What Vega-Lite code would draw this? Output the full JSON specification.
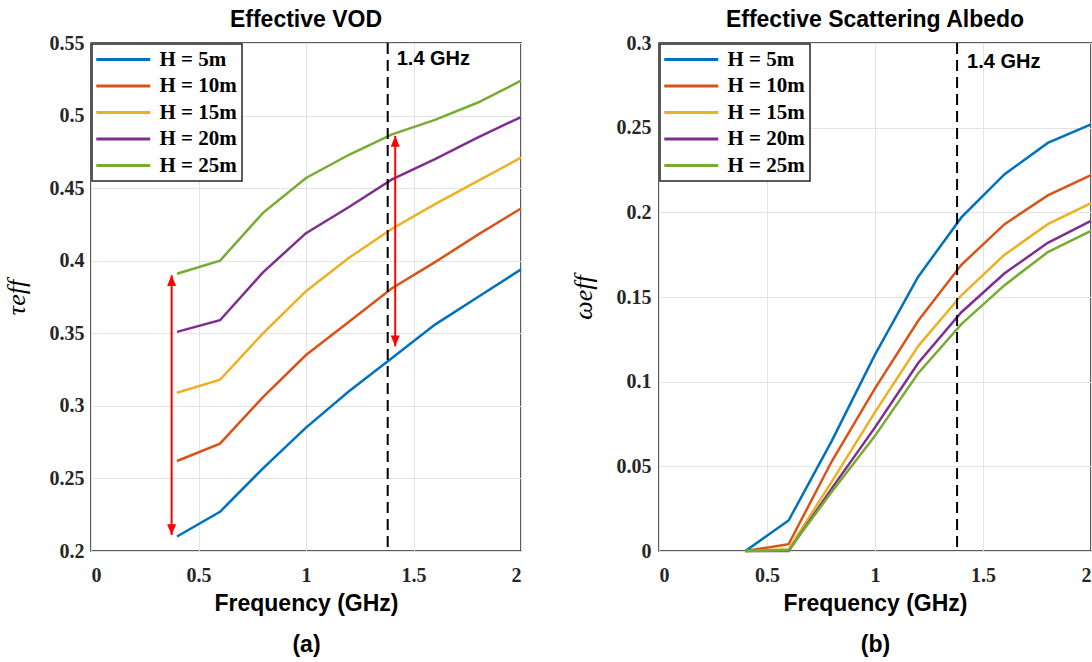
{
  "$schema": "https://vega.github.io/schema/vega-lite/v6.json",
  "autosize": {"type": "pad"},
  "padding": {"left": 2, "top": 8, "right": 0, "bottom": 0},
  "background": "white",
  "bounds": "flush",
  "spacing": 138,
  "datasets": {
    "vod": [
      {"H": "H = 5m", "f": 0.4, "v": 0.210}, {"H": "H = 5m", "f": 0.6, "v": 0.227}, {"H": "H = 5m", "f": 0.8, "v": 0.257}, {"H": "H = 5m", "f": 1.0, "v": 0.285}, {"H": "H = 5m", "f": 1.2, "v": 0.310}, {"H": "H = 5m", "f": 1.4, "v": 0.333}, {"H": "H = 5m", "f": 1.6, "v": 0.356}, {"H": "H = 5m", "f": 1.8, "v": 0.375}, {"H": "H = 5m", "f": 2.0, "v": 0.394},
      {"H": "H = 10m", "f": 0.4, "v": 0.262}, {"H": "H = 10m", "f": 0.6, "v": 0.274}, {"H": "H = 10m", "f": 0.8, "v": 0.306}, {"H": "H = 10m", "f": 1.0, "v": 0.335}, {"H": "H = 10m", "f": 1.2, "v": 0.358}, {"H": "H = 10m", "f": 1.4, "v": 0.381}, {"H": "H = 10m", "f": 1.6, "v": 0.399}, {"H": "H = 10m", "f": 1.8, "v": 0.418}, {"H": "H = 10m", "f": 2.0, "v": 0.436},
      {"H": "H = 15m", "f": 0.4, "v": 0.309}, {"H": "H = 15m", "f": 0.6, "v": 0.318}, {"H": "H = 15m", "f": 0.8, "v": 0.350}, {"H": "H = 15m", "f": 1.0, "v": 0.379}, {"H": "H = 15m", "f": 1.2, "v": 0.402}, {"H": "H = 15m", "f": 1.4, "v": 0.422}, {"H": "H = 15m", "f": 1.6, "v": 0.439}, {"H": "H = 15m", "f": 1.8, "v": 0.455}, {"H": "H = 15m", "f": 2.0, "v": 0.471},
      {"H": "H = 20m", "f": 0.4, "v": 0.351}, {"H": "H = 20m", "f": 0.6, "v": 0.359}, {"H": "H = 20m", "f": 0.8, "v": 0.392}, {"H": "H = 20m", "f": 1.0, "v": 0.419}, {"H": "H = 20m", "f": 1.2, "v": 0.437}, {"H": "H = 20m", "f": 1.4, "v": 0.456}, {"H": "H = 20m", "f": 1.6, "v": 0.470}, {"H": "H = 20m", "f": 1.8, "v": 0.485}, {"H": "H = 20m", "f": 2.0, "v": 0.499},
      {"H": "H = 25m", "f": 0.4, "v": 0.391}, {"H": "H = 25m", "f": 0.6, "v": 0.400}, {"H": "H = 25m", "f": 0.8, "v": 0.433}, {"H": "H = 25m", "f": 1.0, "v": 0.457}, {"H": "H = 25m", "f": 1.2, "v": 0.473}, {"H": "H = 25m", "f": 1.4, "v": 0.487}, {"H": "H = 25m", "f": 1.6, "v": 0.497}, {"H": "H = 25m", "f": 1.8, "v": 0.509}, {"H": "H = 25m", "f": 2.0, "v": 0.524}
    ],
    "alb": [
      {"H": "H = 5m", "f": 0.4, "v": 0.0}, {"H": "H = 5m", "f": 0.6, "v": 0.018}, {"H": "H = 5m", "f": 0.8, "v": 0.065}, {"H": "H = 5m", "f": 1.0, "v": 0.116}, {"H": "H = 5m", "f": 1.2, "v": 0.162}, {"H": "H = 5m", "f": 1.4, "v": 0.197}, {"H": "H = 5m", "f": 1.6, "v": 0.2225}, {"H": "H = 5m", "f": 1.8, "v": 0.241}, {"H": "H = 5m", "f": 2.0, "v": 0.252},
      {"H": "H = 10m", "f": 0.4, "v": 0.0}, {"H": "H = 10m", "f": 0.6, "v": 0.004}, {"H": "H = 10m", "f": 0.8, "v": 0.053}, {"H": "H = 10m", "f": 1.0, "v": 0.096}, {"H": "H = 10m", "f": 1.2, "v": 0.136}, {"H": "H = 10m", "f": 1.4, "v": 0.169}, {"H": "H = 10m", "f": 1.6, "v": 0.193}, {"H": "H = 10m", "f": 1.8, "v": 0.210}, {"H": "H = 10m", "f": 2.0, "v": 0.222},
      {"H": "H = 15m", "f": 0.4, "v": 0.0}, {"H": "H = 15m", "f": 0.6, "v": 0.001}, {"H": "H = 15m", "f": 0.8, "v": 0.041}, {"H": "H = 15m", "f": 1.0, "v": 0.082}, {"H": "H = 15m", "f": 1.2, "v": 0.121}, {"H": "H = 15m", "f": 1.4, "v": 0.151}, {"H": "H = 15m", "f": 1.6, "v": 0.175}, {"H": "H = 15m", "f": 1.8, "v": 0.193}, {"H": "H = 15m", "f": 2.0, "v": 0.2055},
      {"H": "H = 20m", "f": 0.4, "v": 0.0}, {"H": "H = 20m", "f": 0.6, "v": 0.0}, {"H": "H = 20m", "f": 0.8, "v": 0.037}, {"H": "H = 20m", "f": 1.0, "v": 0.073}, {"H": "H = 20m", "f": 1.2, "v": 0.111}, {"H": "H = 20m", "f": 1.4, "v": 0.141}, {"H": "H = 20m", "f": 1.6, "v": 0.164}, {"H": "H = 20m", "f": 1.8, "v": 0.182}, {"H": "H = 20m", "f": 2.0, "v": 0.195},
      {"H": "H = 25m", "f": 0.4, "v": 0.0}, {"H": "H = 25m", "f": 0.6, "v": 0.0005}, {"H": "H = 25m", "f": 0.8, "v": 0.035}, {"H": "H = 25m", "f": 1.0, "v": 0.068}, {"H": "H = 25m", "f": 1.2, "v": 0.105}, {"H": "H = 25m", "f": 1.4, "v": 0.134}, {"H": "H = 25m", "f": 1.6, "v": 0.157}, {"H": "H = 25m", "f": 1.8, "v": 0.1765}, {"H": "H = 25m", "f": 2.0, "v": 0.189}
    ],
    "vline": [{"f": 1.38}],
    "labelA": [{"f": 1.38, "v": 0.539, "t": "1.4 GHz"}],
    "labelB": [{"f": 1.38, "v": 0.289, "t": "1.4 GHz"}],
    "arrows": [
      {"f": 0.375, "v": 0.211, "v2": 0.390},
      {"f": 1.415, "v": 0.341, "v2": 0.486}
    ]
  },
  "config": {
    "view": {"stroke": "#262626", "strokeWidth": 1.5},
    "axis": {
      "grid": true, "gridColor": "#e3e3e3", "gridWidth": 1,
      "domain": false, "ticks": false,
      "labelFont": "Liberation Serif", "labelFontWeight": "bold", "labelFontSize": 20, "labelColor": "#262626",
      "titleColor": "black"
    },
    "title": {"font": "Liberation Sans", "fontWeight": "bold", "fontSize": 23, "color": "black", "offset": 1},
    "legend": {
      "title": null, "orient": "top-left", "offset": 1, "padding": 5,
      "strokeColor": "#262626", "strokeWidth": 1.5, "fillColor": "white",
      "symbolType": "M-4,0H4", "symbolSize": 182, "symbolStrokeWidth": 3, "symbolOffset": 15.75,
      "labelFont": "Liberation Serif", "labelFontWeight": "bold", "labelFontSize": 21, "labelColor": "black",
      "labelOffset": 25.75, "rowPadding": 4.5
    }
  },
  "resolve": {"scale": {"color": "independent"}, "legend": {"color": "independent"}},
  "hconcat": [
    {
      "width": 430, "height": 508,
      "title": "Effective VOD",
      "layer": [
        {
          "data": {"name": "vod"},
          "mark": {"type": "line", "strokeWidth": 2.5},
          "encoding": {
            "x": {"field": "f", "type": "quantitative", "scale": {"domain": [0, 2], "nice": false},
              "axis": {"values": [0, 0.5, 1, 1.5, 2], "format": ".1~f", "title": ["Frequency (GHz)", "(a)"],
                "titleFont": "Liberation Sans", "titleFontSize": 23, "titleFontWeight": "bold",
                "labelPadding": 14, "titlePadding": 7, "titleLineHeight": 41}},
            "y": {"field": "v", "type": "quantitative", "scale": {"domain": [0.2, 0.55], "nice": false, "zero": false},
              "axis": {"values": [0.2, 0.25, 0.3, 0.35, 0.4, 0.45, 0.5, 0.55], "format": ".2~f", "title": "τeff",
                "titleFont": "Liberation Serif", "titleFontStyle": "italic", "titleFontWeight": "normal", "titleFontSize": 26,
                "labelPadding": 7, "titlePadding": 20}},
            "color": {"field": "H", "type": "nominal",
              "scale": {"domain": ["H = 5m", "H = 10m", "H = 15m", "H = 20m", "H = 25m"], "range": ["#0072BD", "#D95319", "#EDB120", "#7E2F8E", "#77AC30"]},
              "legend": {}}
          }
        },
        {
          "data": {"name": "vline"},
          "mark": {"type": "rule", "strokeDash": [11, 6], "strokeWidth": 2, "color": "black"},
          "encoding": {"x": {"field": "f", "type": "quantitative"}}
        },
        {
          "data": {"name": "labelA"},
          "mark": {"type": "text", "align": "left", "baseline": "middle", "font": "Liberation Sans", "fontWeight": "bold", "fontSize": 20, "dx": 9, "color": "black"},
          "encoding": {
            "x": {"field": "f", "type": "quantitative"},
            "y": {"field": "v", "type": "quantitative"},
            "text": {"field": "t"}
          }
        },
        {
          "data": {"name": "arrows"},
          "mark": {"type": "rule", "color": "#FF0000", "strokeWidth": 2},
          "encoding": {
            "x": {"field": "f", "type": "quantitative"},
            "y": {"field": "v", "type": "quantitative"},
            "y2": {"field": "v2"}
          }
        },
        {
          "data": {"name": "arrows"},
          "mark": {"type": "point", "filled": true, "opacity": 1, "color": "#FF0000", "size": 144, "shape": "M0,0L-0.75,1.8L0.75,1.8Z"},
          "encoding": {
            "x": {"field": "f", "type": "quantitative"},
            "y": {"field": "v2", "type": "quantitative"}
          }
        },
        {
          "data": {"name": "arrows"},
          "mark": {"type": "point", "filled": true, "opacity": 1, "color": "#FF0000", "size": 144, "shape": "M0,0L-0.75,-1.8L0.75,-1.8Z"},
          "encoding": {
            "x": {"field": "f", "type": "quantitative"},
            "y": {"field": "v", "type": "quantitative"}
          }
        }
      ]
    },
    {
      "width": 432, "height": 508,
      "title": "Effective Scattering Albedo",
      "layer": [
        {
          "data": {"name": "alb"},
          "mark": {"type": "line", "strokeWidth": 2.5},
          "encoding": {
            "x": {"field": "f", "type": "quantitative", "scale": {"domain": [0, 2], "nice": false},
              "axis": {"values": [0, 0.5, 1, 1.5, 2], "format": ".1~f", "title": ["Frequency (GHz)", "(b)"],
                "titleFont": "Liberation Sans", "titleFontSize": 23, "titleFontWeight": "bold",
                "labelPadding": 14, "titlePadding": 7, "titleLineHeight": 41}},
            "y": {"field": "v", "type": "quantitative", "scale": {"domain": [0, 0.3], "nice": false, "zero": false},
              "axis": {"values": [0, 0.05, 0.1, 0.15, 0.2, 0.25, 0.3], "format": ".2~f", "title": "ωeff",
                "titleFont": "Liberation Serif", "titleFontStyle": "italic", "titleFontWeight": "normal", "titleFontSize": 26,
                "labelPadding": 8, "titlePadding": 20}},
            "color": {"field": "H", "type": "nominal",
              "scale": {"domain": ["H = 5m", "H = 10m", "H = 15m", "H = 20m", "H = 25m"], "range": ["#0072BD", "#D95319", "#EDB120", "#7E2F8E", "#77AC30"]},
              "legend": {}}
          }
        },
        {
          "data": {"name": "vline"},
          "mark": {"type": "rule", "strokeDash": [11, 6], "strokeWidth": 2, "color": "black"},
          "encoding": {"x": {"field": "f", "type": "quantitative"}}
        },
        {
          "data": {"name": "labelB"},
          "mark": {"type": "text", "align": "left", "baseline": "middle", "font": "Liberation Sans", "fontWeight": "bold", "fontSize": 20, "dx": 10, "color": "black"},
          "encoding": {
            "x": {"field": "f", "type": "quantitative"},
            "y": {"field": "v", "type": "quantitative"},
            "text": {"field": "t"}
          }
        }
      ]
    }
  ]
}
